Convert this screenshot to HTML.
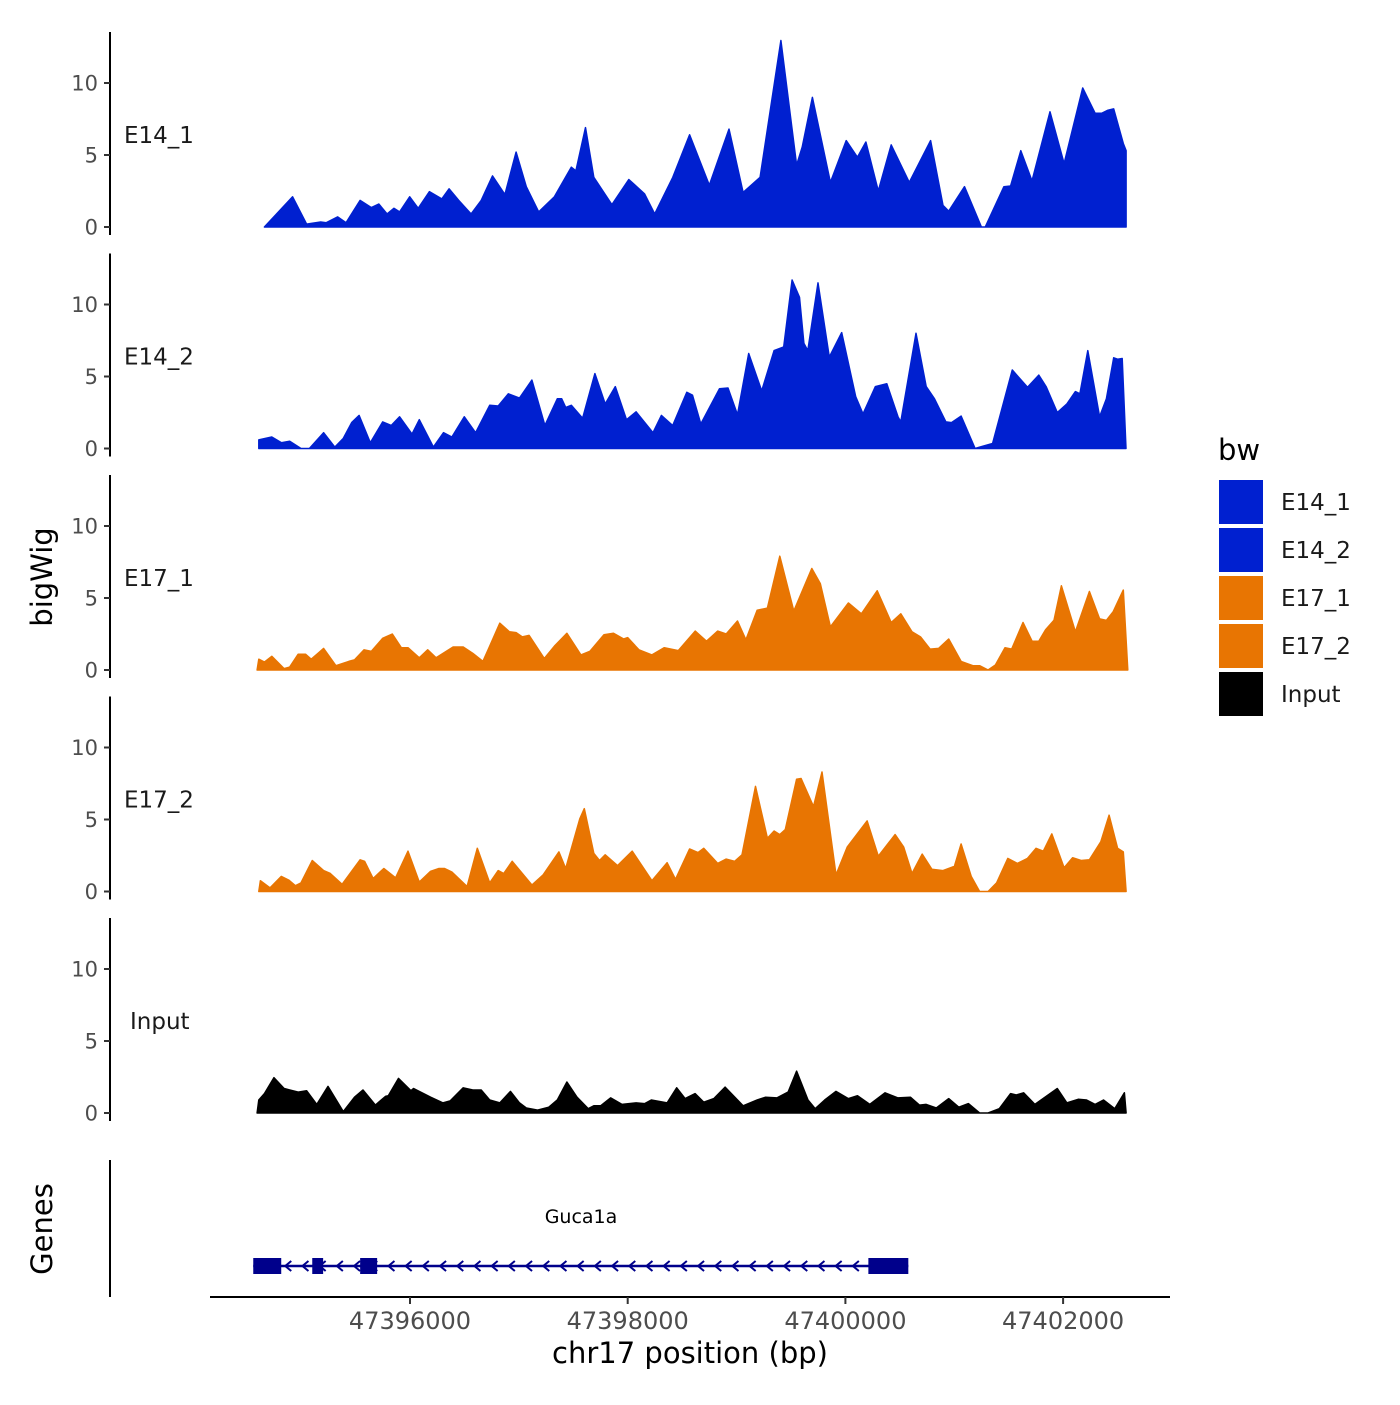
<!DOCTYPE html>
<html><head><meta charset="utf-8"><style>
body{margin:0;background:#fff}
svg text{font-family:"DejaVu Sans","Liberation Sans",sans-serif}
</style></head><body>
<svg id="chart" width="1400" height="1400" xmlns="http://www.w3.org/2000/svg">
<rect width="1400" height="1400" fill="#fff"/>
<g id="panels"></g>
<g id="genes"></g>
<g id="xaxis"></g>
<text transform="translate(52,577) rotate(-90)" text-anchor="middle" font-size="29">bigWig</text>
<text transform="translate(52,1229) rotate(-90)" text-anchor="middle" font-size="29">Genes</text>
<text x="690" y="1363" text-anchor="middle" font-size="29">chr17 position (bp)</text>
<g id="legend"></g>
</svg>
<script>
const trackNames=["E14_1","E14_2","E17_1","E17_2","Input"];
const trackColors=["#0020d0","#0020d0","#e87502","#e87502","#000000"];
const yTicks=[0,5,10];
const xTicks=[47396000,47398000,47400000,47402000];
const readOffset=129;
const e14_1Pos=[47394533,47394792,47394921,47395051,47395102,47395206,47395284,47395413,47395516,47395584,47395661,47395723,47395775,47395868,47395946,47396049,47396163,47396230,47396318,47396432,47396525,47396629,47396743,47396846,47396939,47397053,47397198,47397353,47397395,47397483,47397560,47397726,47397881,47398026,47398119,47398285,47398440,47398621,47398802,47398931,47399087,47399278,47399423,47399474,47399568,47399733,47399878,47399981,47400059,47400173,47400292,47400458,47400654,47400768,47400820,47400965,47401120,47401156,47401327,47401389,47401482,47401585,47401751,47401880,47402051,47402165,47402227,47402279,47402336,47402424,47402450];
const e14_1Val=[0,2.1,0.2,0.35,0.3,0.7,0.3,1.85,1.35,1.6,0.9,1.3,1.05,2.1,1.3,2.45,1.95,2.65,1.85,0.9,1.85,3.55,2.25,5.2,2.8,1.05,2.1,4.15,3.9,6.9,3.45,1.55,3.3,2.3,0.9,3.45,6.4,2.9,6.8,2.4,3.45,12.95,4.3,5.55,9.0,3.1,6.0,4.85,5.9,2.5,5.7,3.1,6.0,1.5,1.1,2.8,0,0,2.8,2.85,5.3,3.2,8.0,4.4,9.65,7.9,7.9,8.1,8.2,5.8,5.3];
const e14_2Pos=[47394482,47394601,47394689,47394766,47394870,47394947,47395077,47395180,47395258,47395335,47395403,47395506,47395620,47395698,47395775,47395889,47395956,47396086,47396179,47396256,47396370,47396474,47396603,47396681,47396774,47396877,47396991,47397110,47397224,47397265,47397301,47397353,47397457,47397570,47397664,47397757,47397860,47397948,47398103,47398181,47398284,47398414,47398466,47398543,47398714,47398792,47398880,47398983,47399102,47399216,47399304,47399381,47399449,47399490,47399526,47399619,47399723,47399837,47399966,47400033,47400147,47400251,47400354,47400380,47400520,47400613,47400690,47400794,47400846,47400934,47401063,47401130,47401223,47401404,47401544,47401648,47401715,47401818,47401906,47401984,47402025,47402098,47402206,47402269,47402336,47402372,47402414,47402449];
const e14_2Val=[0.6,0.8,0.4,0.5,0,0,1.1,0.1,0.7,1.8,2.3,0.4,1.85,1.6,2.2,1.0,2.0,0.1,1.1,0.8,2.2,1.1,3.0,2.95,3.8,3.5,4.75,1.6,3.45,3.45,2.85,3.0,2.1,5.2,3.1,4.3,2.0,2.55,1.1,2.3,1.6,3.9,3.7,1.7,4.15,4.2,2.35,6.6,4.0,6.8,7.05,11.7,10.5,7.3,6.8,11.5,6.35,8.05,3.6,2.4,4.3,4.5,2.2,1.85,8.0,4.3,3.45,1.85,1.8,2.25,0,0.15,0.35,5.45,4.25,5.1,4.3,2.5,3.1,3.95,3.8,6.8,2.2,3.45,6.3,6.2,6.25,0];
const e17_1Pos=[47394466,47394482,47394533,47394601,47394714,47394766,47394844,47394911,47394963,47395025,47395077,47395190,47395309,47395361,47395449,47395516,47395620,47395708,47395791,47395853,47395956,47396034,47396111,47396267,47396360,47396448,47396541,47396603,47396696,47396784,47396846,47396903,47396965,47397105,47397198,47397312,47397441,47397524,47397653,47397741,47397834,47397871,47397974,47398093,47398207,47398336,47398491,47398595,47398698,47398776,47398880,47398957,47399061,47399154,47399268,47399397,47399562,47399640,47399733,47399899,47400018,47400163,47400292,47400380,47400483,47400561,47400649,47400727,47400820,47400934,47401042,47401104,47401182,47401249,47401337,47401399,47401503,47401586,47401648,47401710,47401787,47401855,47401984,47402113,47402206,47402269,47402331,47402424,47402465];
const e17_1Val=[0,0.75,0.55,0.95,0.1,0.2,1.1,1.1,0.75,1.15,1.5,0.3,0.6,0.7,1.4,1.3,2.2,2.5,1.55,1.55,0.85,1.4,0.85,1.6,1.6,1.15,0.6,1.65,3.25,2.65,2.6,2.3,2.4,0.8,1.65,2.55,1.05,1.3,2.45,2.55,2.15,2.25,1.4,1.05,1.55,1.35,2.7,2.0,2.7,2.5,3.4,2.1,4.15,4.3,7.9,4.1,7.05,6.0,3.0,4.65,3.9,5.5,3.3,3.9,2.65,2.3,1.45,1.5,2.15,0.6,0.3,0.3,0,0.35,1.55,1.45,3.3,2.0,2.0,2.8,3.45,5.85,2.65,5.45,3.55,3.45,4.05,5.55,0];
const e17_2Pos=[47394482,47394497,47394585,47394689,47394756,47394818,47394870,47394973,47395077,47395139,47395247,47395413,47395454,47395532,47395630,47395739,47395853,47395956,47396060,47396137,47396189,47396256,47396396,47396489,47396603,47396681,47396732,47396810,47396991,47397094,47397239,47397301,47397431,47397472,47397560,47397612,47397664,47397777,47397912,47398093,47398233,47398310,47398440,47398517,47398569,47398698,47398776,47398854,47398921,47399045,47399154,47399216,47399268,47399319,47399423,47399464,47399578,47399656,47399785,47399888,47400070,47400173,47400328,47400406,47400483,47400577,47400665,47400768,47400872,47400934,47401027,47401104,47401182,47401260,47401363,47401451,47401544,47401622,47401689,47401767,47401880,47401958,47402036,47402113,47402217,47402294,47402372,47402424,47402450];
const e17_2Val=[0,0.75,0.25,1.05,0.8,0.4,0.6,2.15,1.45,1.25,0.5,2.2,2.1,0.9,1.6,0.95,2.8,0.65,1.4,1.6,1.6,1.35,0.35,3.0,0.6,1.45,1.25,2.1,0.45,1.15,2.75,1.6,5.05,5.75,2.65,2.15,2.55,1.8,2.8,0.75,2.0,0.85,2.95,2.7,3.0,1.95,2.25,2.1,2.55,7.3,3.7,4.2,3.95,4.3,7.8,7.85,5.9,8.3,1.15,3.1,4.9,2.45,3.95,3.1,1.25,2.6,1.55,1.45,1.75,3.3,1.05,0,0,0.6,2.3,1.95,2.3,3.0,2.8,4.0,1.65,2.35,2.15,2.2,3.45,5.3,3.0,2.75,0];
const inputPos=[47394466,47394482,47394533,47394621,47394714,47394766,47394844,47394921,47395015,47395118,47395258,47395361,47395439,47395553,47395646,47395672,47395765,47395879,47395904,47396060,47396174,47396241,47396360,47396448,47396525,47396603,47396696,47396794,47396877,47396939,47397043,47397146,47397224,47397312,47397405,47397508,47397560,47397622,47397715,47397819,47397948,47398026,47398088,47398233,47398321,47398398,47398491,47398569,47398662,47398766,47398931,47399061,47399138,47399242,47399345,47399423,47399527,47399594,47399681,47399785,47399899,47399982,47400095,47400235,47400354,47400468,47400551,47400613,47400706,47400820,47400913,47401001,47401104,47401182,47401285,47401389,47401441,47401508,47401612,47401818,47401906,47402010,47402087,47402165,47402242,47402346,47402434,47402450];
const inputVal=[0,0.9,1.35,2.45,1.7,1.6,1.45,1.55,0.6,1.85,0.1,1.1,1.6,0.55,1.15,1.2,2.4,1.55,1.7,1.1,0.7,0.85,1.75,1.6,1.6,0.9,0.7,1.5,0.7,0.35,0.2,0.4,0.9,2.15,1.1,0.3,0.5,0.5,1.05,0.6,0.7,0.65,0.9,0.7,1.75,1.0,1.35,0.75,1.0,1.8,0.5,0.9,1.1,1.05,1.45,2.9,0.9,0.3,0.9,1.5,1.0,1.2,0.6,1.4,1.05,1.1,0.55,0.6,0.35,1.0,0.4,0.65,0,0,0.3,1.35,1.25,1.4,0.6,1.7,0.7,0.95,0.9,0.6,0.9,0.3,1.4,0];
const seriesPos=[e14_1Pos,e14_2Pos,e17_1Pos,e17_2Pos,inputPos];
const seriesVal=[e14_1Val,e14_2Val,e17_1Val,e17_2Val,inputVal];
const geneName="Guca1a";
const geneStart=47394431, geneEnd=47400449;
const exonStarts=[47394431,47394973,47395413,47400082];
const exonEnds=[47394688,47395073,47395569,47400449];

const NS="http://www.w3.org/2000/svg";
const xs=bp=>410+(bp-47396000)*217.7/2000;
const xd=bp=>xs(bp+readOffset);
const bases=[227,448.5,670,891.5,1113];
const ys=(v,p)=>bases[p]-v*14.4;
function mk(tag,attrs,parent){const e=document.createElementNS(NS,tag);for(const k in attrs)e.setAttribute(k,attrs[k]);parent.appendChild(e);return e;}
const panels=document.getElementById('panels');
trackNames.forEach((nm,p)=>{
  const g=mk('g',{},panels);
  
  
  const pos=seriesPos[p],val=seriesVal[p];
  let d='M'+xd(pos[0]).toFixed(1)+','+bases[p];
  pos.forEach((b,i)=>{d+=' L'+xd(b).toFixed(1)+','+ys(val[i],p).toFixed(1);});
  d+=' L'+xd(pos[pos.length-1]).toFixed(1)+','+bases[p]+' Z';
  const a=mk('path',{d:d,fill:trackColors[p],stroke:trackColors[p],'stroke-width':1.5,'stroke-linejoin':'round'},g);
  
  
  const ax=mk('line',{x1:110,x2:110,y1:bases[p]-195,y2:bases[p]+8,stroke:'#000','stroke-width':2},g);
  
  
  yTicks.forEach(t=>{
    const y=ys(t,p);
    mk('line',{x1:104,x2:110,y1:y,y2:y,stroke:'#333','stroke-width':2},g);
    const tx=mk('text',{x:98,y:y+7.5,'text-anchor':'end','font-size':21,fill:'#4d4d4d'},g);
    tx.textContent=t;
    
    
  });
  const lb=mk('text',{x:p===4?130:124,y:bases[p]-84,'font-size':23,fill:'#1a1a1a'},g);
  lb.textContent=nm;
  
  
});
const gg=document.getElementById('genes');
mk('line',{x1:110,x2:110,y1:1160,y2:1297,stroke:'#000','stroke-width':2},gg);
const gy=1266;
mk('line',{x1:xd(geneStart),x2:xd(geneEnd),y1:gy,y2:gy,stroke:'#00008b','stroke-width':2.5},gg);
for(let x=xd(geneStart)+34;x<xd(exonStarts[3]);x+=17.2){
  mk('path',{d:`M${x+4},${gy-5} L${x-2},${gy} L${x+4},${gy+5}`,stroke:'#00008b','stroke-width':2,fill:'none'},gg);
}
exonStarts.forEach((s,i)=>{
  const r=mk('rect',{x:xd(s),y:gy-8,width:xd(exonEnds[i])-xd(s),height:16,fill:'#00008b'},gg);
  
  
});
const gl=mk('text',{x:581,y:1223,'text-anchor':'middle','font-size':19,'font-family':'DejaVu Sans Mono, Liberation Mono, monospace'},gg);
gl.textContent=geneName;


const xa=document.getElementById('xaxis');
mk('line',{x1:210,x2:1170,y1:1297,y2:1297,stroke:'#000','stroke-width':2},xa);
xTicks.forEach(t=>{
  mk('line',{x1:xs(t),x2:xs(t),y1:1297,y2:1304,stroke:'#333','stroke-width':2},xa);
  const tx=mk('text',{x:xs(t),y:1329,'text-anchor':'middle','font-size':24,fill:'#4d4d4d'},xa);
  tx.textContent=t;
  
  
});
const lg=document.getElementById('legend');
const lt=mk('text',{x:1218,y:460,'font-size':29},lg);lt.textContent='bw';


trackNames.forEach((nm,i)=>{
  const y=480+i*48;
  const r=mk('rect',{x:1219,y:y,width:44,height:44,fill:trackColors[i]},lg);
  
  
  const t=mk('text',{x:1281,y:y+30,'font-size':23,fill:'#1a1a1a'},lg);
  t.textContent=nm;
  
  
});
</script>
</body></html>
